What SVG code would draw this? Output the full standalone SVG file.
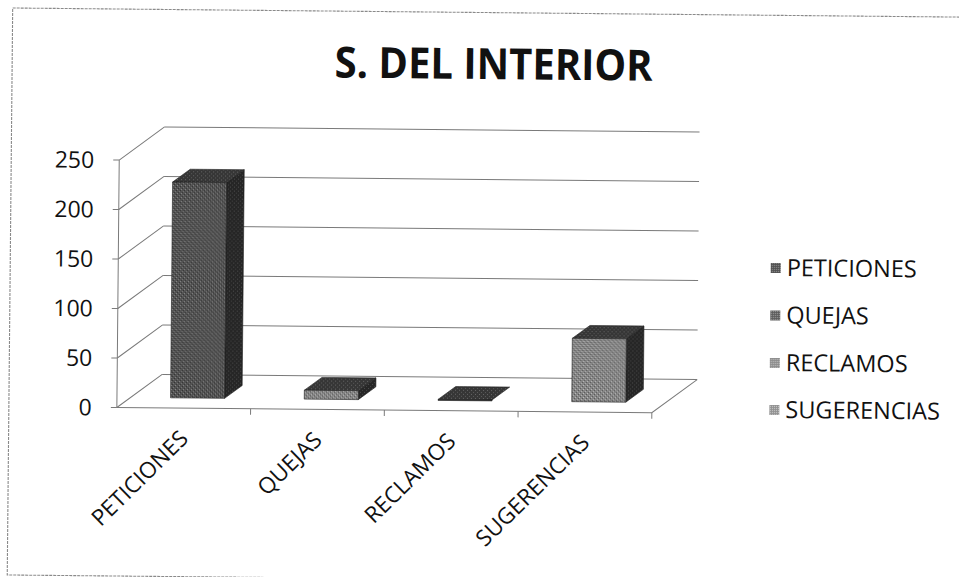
<svg xmlns="http://www.w3.org/2000/svg" width="959" height="577" viewBox="0 0 959 577">
<defs>
<style>
.t{font-family:"Open Sans","Liberation Sans",sans-serif;fill:#111}
.ax{font-size:23px;text-anchor:end}
.cat{font-size:22.5px;text-anchor:end}
.leg{font-size:23.5px}
.ttl{font-size:43px;font-weight:bold;text-anchor:middle}
.g{stroke:#7a7a7a;stroke-width:1;fill:none}
.fr{stroke:#8a8a8a;stroke-width:1.1;fill:none;stroke-dasharray:3 1}
.e{stroke:#1e1e1e;stroke-width:0.6}
</style>
<pattern id="pFront" width="4" height="4" patternUnits="userSpaceOnUse">
<rect width="4" height="4" fill="#525252"/>
<rect x="0" y="0" width="1" height="1" fill="#8c8c8c"/>
<rect x="2" y="2" width="1" height="1" fill="#7a7a7a"/>
<rect x="3" y="1" width="1" height="1" fill="#2e2e2e"/>
<rect x="1" y="3" width="1" height="1" fill="#333"/>
</pattern>
<pattern id="pSide" width="4" height="4" patternUnits="userSpaceOnUse">
<rect width="4" height="4" fill="#262626"/>
<rect x="1" y="1" width="1" height="1" fill="#4e4e4e"/>
<rect x="3" y="3" width="1" height="1" fill="#444"/>
</pattern>
<pattern id="pTop" width="4" height="4" patternUnits="userSpaceOnUse">
<rect width="4" height="4" fill="#363636"/>
<rect x="0" y="2" width="1" height="1" fill="#666"/>
<rect x="2" y="0" width="1" height="1" fill="#5a5a5a"/>
</pattern>
<pattern id="pLight" width="4" height="4" patternUnits="userSpaceOnUse">
<rect width="4" height="4" fill="#858585"/>
<rect x="0" y="0" width="1" height="1" fill="#bdbdbd"/>
<rect x="2" y="2" width="1" height="1" fill="#b0b0b0"/>
<rect x="3" y="1" width="1" height="1" fill="#555"/>
<rect x="1" y="3" width="1" height="1" fill="#5a5a5a"/>
</pattern>
<pattern id="pL1" width="2" height="2" patternUnits="userSpaceOnUse">
<rect width="2" height="2" fill="#505050"/>
<rect width="1" height="1" fill="#9a9a9a"/>
</pattern>
<pattern id="pL2" width="2" height="2" patternUnits="userSpaceOnUse">
<rect width="2" height="2" fill="#5a5a5a"/>
<rect x="1" width="1" height="1" fill="#a8a8a8"/>
</pattern>
<pattern id="pL3" width="2" height="2" patternUnits="userSpaceOnUse">
<rect width="2" height="2" fill="#8a8a8a"/>
<rect width="1" height="1" fill="#c8c8c8"/>
</pattern>
<pattern id="pL4" width="2" height="2" patternUnits="userSpaceOnUse">
<rect width="2" height="2" fill="#909090"/>
<rect x="1" y="1" width="1" height="1" fill="#cfcfcf"/>
</pattern>
</defs>
<rect width="959" height="577" fill="#fff"/>
<g transform="rotate(0.55 480 290)">
<rect id="frame" class="fr" x="10" y="12.5" width="975" height="567"/>

<g id="title"><text class="t ttl" x="491.5" y="79" textLength="318" lengthAdjust="spacingAndGlyphs">S. DEL INTERIOR</text></g>

<g id="connectors">
<path class="g" d="M163 377.5H698M163 328H698M163 278.5H698M163 229H698M163 179.5H698M163 130H698"/>
<path class="g" d="M118 411L163 377.5M118 361.5L163 328M118 312L163 278.5M118 262.5L163 229M118 213L163 179.5M118 163.5L163 130"/>
<path class="g" d="M118 163.5V411M112 163.5H118M112 213H118M112 262.5H118M112 312H118M112 361.5H118M112 411H118"/>
<path class="g" d="M118 411H653L698 377.5"/>
<path class="g" d="M251.75 411V417M385.5 411V417M519.25 411V417M653 411V417"/>
</g>

<g id="yaxis-labels">
<text class="t ax" x="93" y="171.7">250</text>
<text class="t ax" x="93" y="221.2">200</text>
<text class="t ax" x="93" y="270.7">150</text>
<text class="t ax" x="93" y="320.2">100</text>
<text class="t ax" x="93" y="369.7">50</text>
<text class="t ax" x="93" y="419.2">0</text>
</g>

<g id="bar-peticiones">
<polygon class="e" fill="url(#pSide)" points="225.6,185 243.1,172 243.1,387.8 225.6,400.8"/>
<polygon class="e" fill="url(#pTop)" points="171.6,185 225.6,185 243.1,172 189.1,172"/>
<rect class="e" fill="url(#pFront)" x="171.6" y="185" width="54" height="215.8"/>
</g>
<g id="bar-quejas">
<polygon class="e" fill="url(#pSide)" points="359.3,391.9 376.8,378.9 376.8,387.8 359.3,400.8"/>
<polygon class="e" fill="url(#pTop)" points="305.3,391.9 359.3,391.9 376.8,378.9 322.8,378.9"/>
<rect class="e" fill="url(#pLight)" x="305.3" y="391.9" width="54" height="8.9"/>
</g>
<g id="bar-reclamos">
<polygon class="e" fill="url(#pTop)" points="439.1,399.8 493.1,399.8 510.6,386.8 456.6,386.8"/>
<rect class="e" fill="#444" x="439.1" y="399.8" width="54" height="1"/>
</g>
<g id="bar-sugerencias">
<polygon class="e" fill="url(#pSide)" points="626.8,337.4 644.3,324.4 644.3,387.8 626.8,400.8"/>
<polygon class="e" fill="url(#pTop)" points="572.8,337.4 626.8,337.4 644.3,324.4 590.3,324.4"/>
<rect class="e" fill="url(#pLight)" x="572.8" y="337.4" width="54" height="63.4"/>
</g>

<g id="category-labels">
<text class="t cat" transform="translate(191,443) rotate(-45)">PETICIONES</text>
<text class="t cat" transform="translate(324.7,443) rotate(-45)">QUEJAS</text>
<text class="t cat" transform="translate(458.5,443) rotate(-45)">RECLAMOS</text>
<text class="t cat" transform="translate(592.2,443) rotate(-45)">SUGERENCIAS</text>
</g>

<g id="legend-peticiones"><rect x="770.5" y="260.1" width="10" height="10" fill="url(#pL1)"/><text class="t leg" x="786.5" y="273.1">PETICIONES</text></g>
<g id="legend-quejas"><rect x="770.5" y="307.6" width="10" height="10" fill="url(#pL2)"/><text class="t leg" x="786.5" y="320.6">QUEJAS</text></g>
<g id="legend-reclamos"><rect x="770.5" y="355.1" width="10" height="10" fill="url(#pL3)"/><text class="t leg" x="786.5" y="368.1">RECLAMOS</text></g>
<g id="legend-sugerencias"><rect x="770.5" y="402.1" width="10" height="10" fill="url(#pL4)"/><text class="t leg" x="786.5" y="415.1">SUGERENCIAS</text></g>
</g>
</svg>
